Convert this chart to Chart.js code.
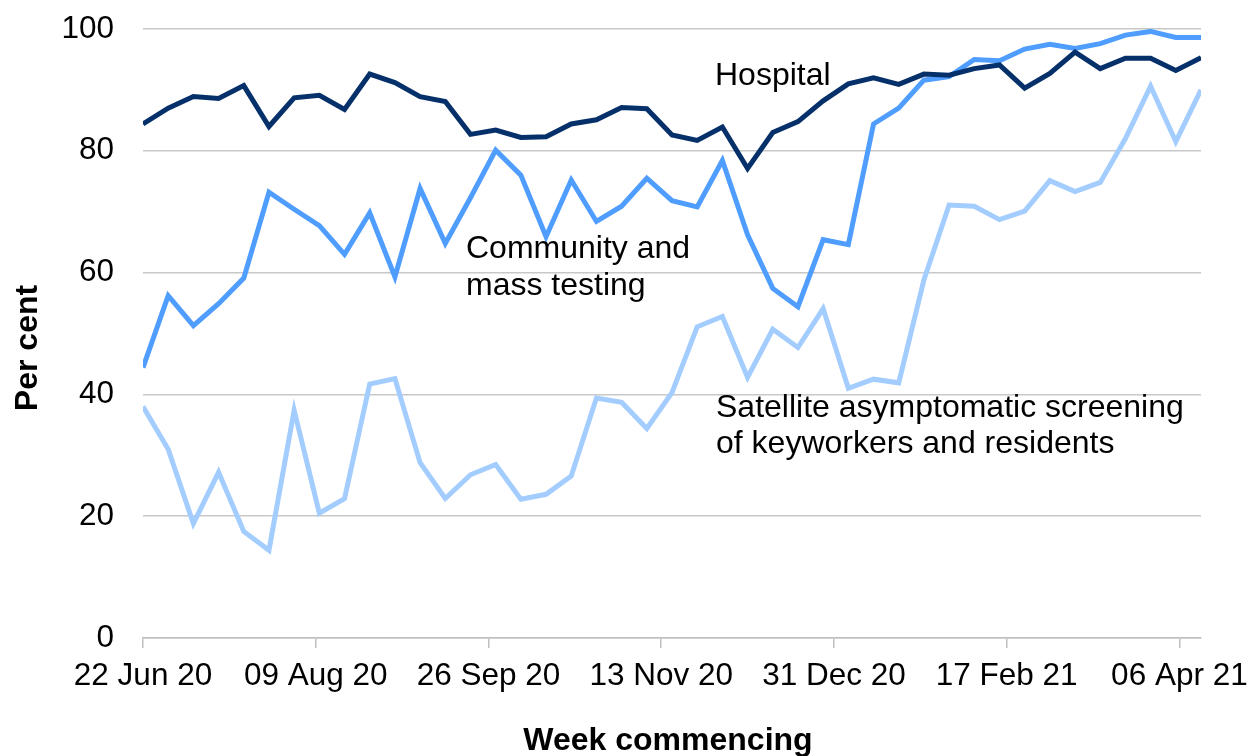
<!DOCTYPE html>
<html>
<head>
<meta charset="utf-8">
<script src="https://cdn.jsdelivr.net/npm/chart.js@4.4.0/dist/chart.umd.min.js"></script>
<style>
  html, body { margin: 0; padding: 0; background: #ffffff; }
  canvas { display: block; }
</style>
</head>
<body>
<canvas id="chart" width="1248" height="756"></canvas>
<script>
// weekly points, week commencing 22 Jun 20 .. 12 Apr 21
const hospital = [84.4, 87.0, 88.9, 88.6, 90.7, 84.0, 88.7, 89.1, 86.8, 92.6,
  91.2, 88.9, 88.1, 82.7, 83.4, 82.2, 82.3, 84.4, 85.1, 87.1,
  86.9, 82.6, 81.7, 83.9, 77.1, 83.0, 84.8, 88.2, 91.0, 92.0,
  90.9, 92.6, 92.4, 93.5, 94.1, 90.3, 92.7, 96.2, 93.5, 95.2,
  95.2, 93.2, 95.3];

const community = [44.4, 56.2, 51.3, 54.9, 59.1, 73.2, 70.4, 67.7, 63.0, 69.8,
  59.3, 73.8, 64.8, 72.3, 80.1, 76.0, 65.9, 75.2, 68.4, 70.9,
  75.5, 71.8, 70.8, 78.4, 66.2, 57.4, 54.4, 65.4, 64.6, 84.4,
  87.0, 91.6, 92.2, 95.0, 94.8, 96.7, 97.5, 96.8, 97.6, 99.0,
  99.6, 98.6, 98.6];

const satellite = [38.0, 31.0, 18.8, 27.2, 17.5, 14.4, 37.4, 20.5, 22.9, 41.7,
  42.6, 28.8, 22.9, 26.8, 28.5, 22.8, 23.6, 26.6, 39.4, 38.7,
  34.4, 40.3, 51.1, 52.8, 42.8, 50.7, 47.7, 54.1, 41.0, 42.5,
  41.9, 58.8, 71.1, 70.9, 68.7, 70.1, 75.1, 73.3, 74.8, 82.0,
  90.6, 81.5, 90.0];

// x axis is in days since 22 Jun 20, labels every 48 days
const tickDays = [0, 48, 96, 144, 192, 240, 288];
const tickLabels = ["22 Jun 20", "09 Aug 20", "26 Sep 20", "13 Nov 20", "31 Dec 20", "17 Feb 21", "06 Apr 21"];
const yTicks = [0, 20, 40, 60, 80, 100];

const DAYS_PER_WEEK = 7;
const FONT = "'Liberation Sans', Arial, sans-serif";

const toPoints = (arr) => arr.map((v, i) => ({ x: i * DAYS_PER_WEEK, y: v }));

// text labels next to the lines + axis titles
const labelsPlugin = {
  id: "lineLabels",
  afterDraw(chart) {
    const ctx = chart.ctx;
    ctx.save();
    ctx.fillStyle = "#000000";
    ctx.textAlign = "left";
    ctx.textBaseline = "alphabetic";
    ctx.font = "32px " + FONT;
    ctx.fillText("Hospital", 715, 85);
    ctx.fillText("Community and", 466, 258);
    ctx.fillText("mass testing", 466, 295);
    ctx.fillText("Satellite asymptomatic screening", 716, 417);
    ctx.fillText("of keyworkers and residents", 716, 453);

    ctx.font = "bold 32px " + FONT;
    ctx.textAlign = "center";
    ctx.fillText("Week commencing", 668, 750);

    ctx.translate(37, 348);
    ctx.rotate(-Math.PI / 2);
    ctx.fillText("Per cent", 0, 0);
    ctx.restore();
  }
};

const ctx = document.getElementById("chart").getContext("2d");

new Chart(ctx, {
  type: "line",
  data: {
    datasets: [
      {
        label: "Hospital",
        data: toPoints(hospital),
        borderColor: "#06306a",
        borderWidth: 5,
        pointRadius: 0,
        tension: 0,
      },
      {
        label: "Community and mass testing",
        data: toPoints(community),
        borderColor: "#4f9dff",
        borderWidth: 5,
        pointRadius: 0,
        tension: 0,
      },
      {
        label: "Satellite asymptomatic screening of keyworkers and residents",
        data: toPoints(satellite),
        borderColor: "#a3ccff",
        borderWidth: 5,
        pointRadius: 0,
        tension: 0,
      },
    ],
  },
  options: {
    responsive: false,
    animation: false,
    devicePixelRatio: 1,
    layout: { padding: { top: 29, right: 47, bottom: 0, left: 0 } },
    plugins: {
      legend: { display: false },
      tooltip: { enabled: false },
    },
    scales: {
      x: {
        type: "linear",
        min: 0,
        max: (hospital.length - 1) * DAYS_PER_WEEK,
        afterBuildTicks: (scale) => {
          scale.ticks = tickDays.map((d) => ({ value: d }));
        },
        afterFit: (scale) => {
          scale.height = 118;
          scale.paddingLeft = 0;
          scale.paddingRight = 0;
        },
        ticks: {
          autoSkip: false,
          maxRotation: 0,
          padding: 9,
          color: "#000000",
          font: { family: FONT, size: 31.5 },
          callback: (value) => tickLabels[tickDays.indexOf(value)],
        },
        grid: {
          drawOnChartArea: false,
          drawTicks: true,
          tickLength: 10,
          color: "#bfbfbf",
          lineWidth: 1.5,
        },
        border: { display: true, color: "#bfbfbf", width: 1.5 },
      },
      y: {
        min: 0,
        max: 100,
        afterBuildTicks: (scale) => {
          scale.ticks = yTicks.map((v) => ({ value: v }));
        },
        afterFit: (scale) => {
          scale.width = 143;
          scale.paddingTop = 0;
          scale.paddingBottom = 0;
        },
        ticks: {
          padding: 29,
          color: "#000000",
          font: { family: FONT, size: 31.5 },
        },
        grid: {
          drawTicks: false,
          color: "#c8c8c8",
          lineWidth: 1.5,
        },
        border: { display: false },
      },
    },
  },
  plugins: [labelsPlugin],
});
</script>
</body>
</html>
